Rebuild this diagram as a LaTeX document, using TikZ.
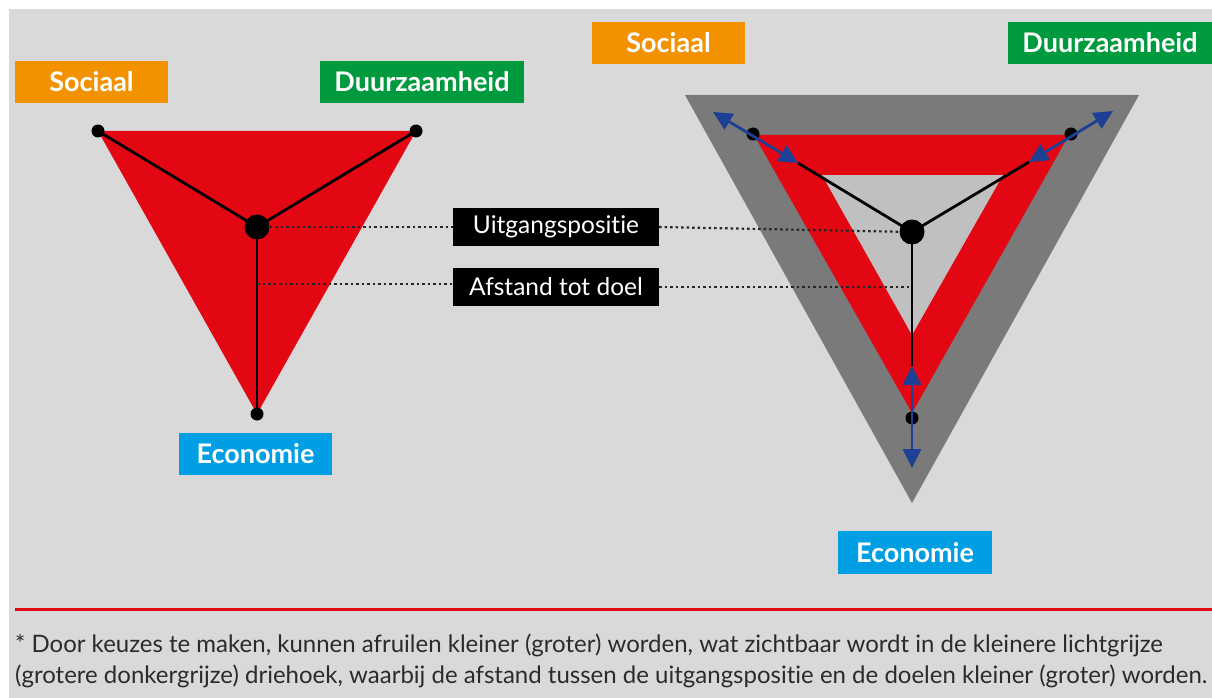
\documentclass[tikz,border=0pt]{standalone}
\usepackage{fontspec}
\setmainfont{Lato}[Ligatures=NoCommon]
\usetikzlibrary{arrows.meta}
\definecolor{panel}{HTML}{D9D9D9}
\definecolor{goalred}{HTML}{E30613}
\definecolor{socorange}{HTML}{F39200}
\definecolor{susgreen}{HTML}{009A3E}
\definecolor{ecoblue}{HTML}{009FE3}
\definecolor{outergrey}{HTML}{7A7A7A}
\definecolor{innergrey}{HTML}{C0C0C0}
\definecolor{arrowblue}{HTML}{1D3F94}
\definecolor{notetext}{HTML}{2B2B2B}
\begin{document}
\begin{tikzpicture}[x=1pt,y=-1pt,
  tag/.style={inner sep=0pt, minimum height=42pt, text=white,
    font=\fontsize{27}{27}\selectfont\bfseries},
  blackbox/.style={fill=black, inner sep=0pt, minimum width=206pt, minimum height=38pt,
    text=white, font=\fontsize{24.5}{24.5}\selectfont},
  spoke/.style={line width=2.8pt, black},
  dotline/.style={line width=2.2pt, black!85, dash pattern=on 2.5pt off 3pt},
  smalldot/.style={circle, fill=black, inner sep=0pt, minimum size=13pt},
  bigdot/.style={circle, fill=black, inner sep=0pt, minimum size=25pt},
  trade/.style={line width=2.8pt, arrowblue, {Triangle[length=19pt,width=18pt]}-{Triangle[length=19pt,width=18pt]}},
  note/.style={anchor=base west, inner sep=0pt, text=notetext, font=\fontsize{24}{24}\selectfont}
]
\useasboundingbox (0,0) rectangle (1212,698);
\fill[white] (0,0) rectangle (1212,698);
\fill[panel] (9,9) rectangle (1212,698);

% ---- left: starting position ----
\coordinate (LS) at (98,131);
\coordinate (LD) at (416,131);
\coordinate (LE) at (257,414);
\coordinate (LC) at (257,227);
\fill[goalred] (LS) -- (LD) -- (LE) -- cycle;
\draw[spoke] (LC) -- (LS);
\draw[spoke] (LC) -- (LD);
\draw[spoke] (LC) -- (LE);
\node[smalldot] (ls) at (LS) {};
\node[smalldot] (ld) at (LD) {};
\node[smalldot] (le) at (LE) {};
\node[bigdot] (lc) at (LC) {};

\node[tag, fill=socorange, minimum width=153pt] (lsoc) at (91.5,82) {Sociaal};
\node[tag, fill=susgreen, minimum width=204pt] (ldur) at (422,82) {Duurzaamheid};
\node[tag, fill=ecoblue, minimum width=153pt] (leco) at (255.5,454) {Economie};

% ---- right: trade-offs ----
\coordinate (RS) at (753,134);
\coordinate (RD) at (1071,134);
\coordinate (RE) at (912,418);
\coordinate (RC) at (912,232);
\fill[outergrey] (685,95) -- (1139,95) -- (912,503) -- cycle;
\fill[goalred] (754,135) -- (1069,135) -- (912,413) -- cycle;
\fill[innergrey] (822,175) -- (1003,175) -- (912,335) -- cycle;

\coordinate (TSin) at (798,163);
\coordinate (TSout) at (713,112);
\coordinate (TDin) at (1029,162);
\coordinate (TDout) at (1113,111);
\coordinate (TEin) at (912,366);
\coordinate (TEout) at (912,468);

\draw[spoke] (RC) -- (TSin);
\draw[spoke] (RC) -- (TDin);
\draw[spoke] (RC) -- (TEin);
\node[smalldot] (rs) at (RS) {};
\node[smalldot] (rd) at (RD) {};
\node[smalldot] (re) at (RE) {};
\node[bigdot] (rc) at (RC) {};
\draw[trade] (TSout) -- (TSin);
\draw[trade] (TDout) -- (TDin);
\draw[trade] (TEin) -- (TEout);

\node[tag, fill=socorange, minimum width=153pt] (rsoc) at (668.5,43) {Sociaal};
\node[tag, fill=susgreen, minimum width=204pt] (rdur) at (1110,43) {Duurzaamheid};
\node[tag, fill=ecoblue, minimum width=154pt, minimum height=43pt] (reco) at (915,552.5) {Economie};

% ---- middle captions ----
\node[blackbox] (uit) at (556,227) {Uitgangspositie};
\node[blackbox] (afs) at (556,287) {Afstand tot doel};
\coordinate (LA) at (257,284);
\coordinate (RA) at (912,287);
\draw[dotline] (lc) -- (lc -| uit.west);
\draw[dotline] (uit.east) -- (rc);
\draw[dotline] (LA) -- (afs.west |- LA);
\draw[dotline] (afs.east) -- (RA);

% ---- footnote ----
\draw[goalred, line width=3pt] (15,609) -- (1212,609);
\node[note] (note1) at (15,652)
  {* Door keuzes te maken, kunnen afruilen kleiner (groter) worden, wat zichtbaar wordt in de kleinere lichtgrijze};
\node[note] (note2) at (15,683)
  {(grotere donkergrijze) driehoek, waarbij de afstand tussen de uitgangspositie en de doelen kleiner (groter) worden.};
\end{tikzpicture}
\end{document}
